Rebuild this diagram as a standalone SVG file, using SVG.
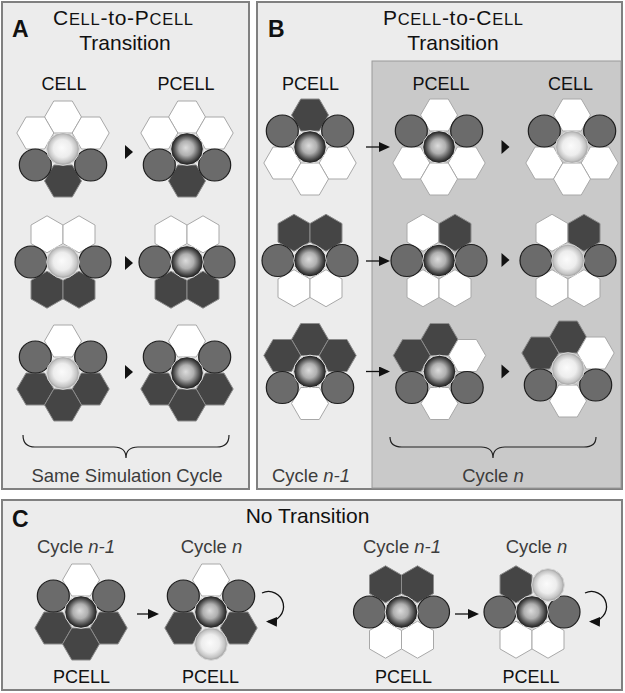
<svg xmlns="http://www.w3.org/2000/svg" xmlns:xlink="http://www.w3.org/1999/xlink" width="625" height="693" viewBox="0 0 625 693">
<style>
.panel{fill:#ececec;stroke:#808080;stroke-width:2}
.inner{fill:#c9c9c9;stroke:#9a9a9a;stroke-width:1}
.w{fill:#ffffff;stroke:#a8a8a8;stroke-width:1}
.d{fill:#454545;stroke:#8c8c8c;stroke-width:1}
.c{fill:#6b6b6b;stroke:#1e1e1e;stroke-width:1.2}
.pc{fill:url(#gp);stroke:#e4e4e4;stroke-width:1}
.cc{fill:url(#gc);stroke:#d8d8d8;stroke-width:1}
text{font-family:"Liberation Sans",Arial,sans-serif}
.t{font-size:21px;fill:#111;text-anchor:middle}
.sc{font-size:16.5px}
.lab{font-size:18px;fill:#111;text-anchor:middle}
.cy{font-size:18.5px;fill:#3c3c3c;text-anchor:middle}
.let{font-size:23px;font-weight:bold;fill:#111}
.ln{stroke:#111;stroke-width:1.3;fill:none}
.br{stroke:#222;stroke-width:1.2;fill:none}
.tri{fill:#111}
</style>
<defs>
<polygon id="hf" points="-18.5,0 -9.25,-16 9.25,-16 18.5,0 9.25,16 -9.25,16"/>
<polygon id="hp" points="0,-18.5 16,-9.25 16,9.25 0,18.5 -16,9.25 -16,-9.25"/>
<radialGradient id="gp" cx="50%" cy="50%" r="50%" fx="46%" fy="46%">
<stop offset="0" stop-color="#dcdcdc"/>
<stop offset="0.45" stop-color="#b0b0b0"/>
<stop offset="0.8" stop-color="#4a4a4a"/>
<stop offset="1" stop-color="#141414"/>
</radialGradient>
<radialGradient id="gc" cx="50%" cy="50%" r="50%" fx="46%" fy="46%">
<stop offset="0" stop-color="#fbfbfb"/>
<stop offset="0.55" stop-color="#ededed"/>
<stop offset="0.85" stop-color="#c4c4c4"/>
<stop offset="1" stop-color="#9a9a9a"/>
</radialGradient>
<marker id="ah" markerUnits="userSpaceOnUse" markerWidth="11" markerHeight="10" refX="9" refY="5" orient="auto">
<path d="M0,0 L11,5 L0,10 z" fill="#111"/>
</marker>
</defs>

<rect width="625" height="693" fill="#ffffff"/>

<g id="panelA">
<rect class="panel" x="2" y="2" width="247" height="487"/>
<text class="let" x="12" y="37">A</text>
<text class="t" x="123" y="25" textLength="140" lengthAdjust="spacing">C<tspan class="sc">ELL</tspan>-to-P<tspan class="sc">CELL</tspan></text>
<text class="t" x="125" y="50">Transition</text>
<text class="lab" x="64" y="90">CELL</text>
<text class="lab" x="186" y="90">PCELL</text>
<text class="cy" x="127" y="482">Same Simulation Cycle</text>
</g>

<g id="panelB">
<rect class="panel" x="257" y="2" width="365" height="487"/>
<rect class="inner" x="372" y="61" width="249" height="427"/>
<text class="let" x="268" y="37">B</text>
<text class="t" x="453" y="25" textLength="140" lengthAdjust="spacing">P<tspan class="sc">CELL</tspan>-to-C<tspan class="sc">ELL</tspan></text>
<text class="t" x="453" y="50">Transition</text>
<text class="lab" x="310.5" y="90">PCELL</text>
<text class="lab" x="441" y="90">PCELL</text>
<text class="lab" x="570.5" y="90">CELL</text>
<text class="cy" x="311" y="482">Cycle <tspan font-style="italic">n-1</tspan></text>
<text class="cy" x="493" y="482">Cycle <tspan font-style="italic">n</tspan></text>
</g>

<g id="panelC">
<rect class="panel" x="2" y="500" width="620" height="190"/>
<text class="let" x="12" y="527">C</text>
<text class="t" x="307.5" y="523">No Transition</text>
<text class="cy" x="76" y="553">Cycle <tspan font-style="italic">n-1</tspan></text>
<text class="cy" x="211.5" y="553">Cycle <tspan font-style="italic">n</tspan></text>
<text class="cy" x="402" y="553">Cycle <tspan font-style="italic">n-1</tspan></text>
<text class="cy" x="536.5" y="553">Cycle <tspan font-style="italic">n</tspan></text>
<text class="lab" x="81.5" y="683">PCELL</text>
<text class="lab" x="210.5" y="683">PCELL</text>
<text class="lab" x="403.5" y="683">PCELL</text>
<text class="lab" x="531" y="683">PCELL</text>
</g>

<!-- Panel A clusters -->
<g id="A1a">
<use href="#hf" class="w" x="63" y="117"/><use href="#hf" class="w" x="35.3" y="133"/><use href="#hf" class="w" x="90.7" y="133"/><use href="#hf" class="d" x="63" y="181"/>
<circle class="c" cx="35.3" cy="165" r="16"/><circle class="c" cx="90.7" cy="165" r="16"/>
<circle class="cc" cx="63" cy="149" r="16.3"/>
</g>
<g id="A1b">
<use href="#hf" class="w" x="187" y="117"/><use href="#hf" class="w" x="159.3" y="133"/><use href="#hf" class="w" x="214.7" y="133"/><use href="#hf" class="d" x="187" y="181"/>
<circle class="c" cx="159.3" cy="165" r="16"/><circle class="c" cx="214.7" cy="165" r="16"/>
<circle class="pc" cx="187" cy="149" r="16.3"/>
</g>
<g id="A2a">
<use href="#hp" class="w" x="47" y="234.3"/><use href="#hp" class="w" x="79" y="234.3"/><use href="#hp" class="d" x="47" y="289.7"/><use href="#hp" class="d" x="79" y="289.7"/>
<circle class="c" cx="31" cy="262" r="16"/><circle class="c" cx="95" cy="262" r="16"/>
<circle class="cc" cx="63" cy="262" r="16.3"/>
</g>
<g id="A2b">
<use href="#hp" class="w" x="171" y="234.3"/><use href="#hp" class="w" x="203" y="234.3"/><use href="#hp" class="d" x="171" y="289.7"/><use href="#hp" class="d" x="203" y="289.7"/>
<circle class="c" cx="155" cy="262" r="16"/><circle class="c" cx="219" cy="262" r="16"/>
<circle class="pc" cx="187" cy="262" r="16.3"/>
</g>
<g id="A3a">
<use href="#hf" class="w" x="63" y="341"/><use href="#hf" class="d" x="35.3" y="389"/><use href="#hf" class="d" x="90.7" y="389"/><use href="#hf" class="d" x="63" y="405"/>
<circle class="c" cx="35.3" cy="357" r="16"/><circle class="c" cx="90.7" cy="357" r="16"/>
<circle class="cc" cx="63" cy="373" r="16.3"/>
</g>
<g id="A3b">
<use href="#hf" class="w" x="187" y="341"/><use href="#hf" class="d" x="159.3" y="389"/><use href="#hf" class="d" x="214.7" y="389"/><use href="#hf" class="d" x="187" y="405"/>
<circle class="c" cx="159.3" cy="357" r="16"/><circle class="c" cx="214.7" cy="357" r="16"/>
<circle class="pc" cx="187" cy="373" r="16.3"/>
</g>

<!-- Panel B clusters -->
<g id="B1a">
<use href="#hf" class="d" x="310" y="115"/><use href="#hf" class="w" x="282.3" y="163"/><use href="#hf" class="w" x="337.7" y="163"/><use href="#hf" class="w" x="310" y="179"/>
<circle class="c" cx="282.3" cy="131" r="16"/><circle class="c" cx="337.7" cy="131" r="16"/>
<circle class="pc" cx="310" cy="147" r="16.3"/>
</g>
<g id="B1b">
<use href="#hf" class="w" x="439" y="115"/><use href="#hf" class="w" x="411.3" y="163"/><use href="#hf" class="w" x="466.7" y="163"/><use href="#hf" class="w" x="439" y="179"/>
<circle class="c" cx="411.3" cy="131" r="16"/><circle class="c" cx="466.7" cy="131" r="16"/>
<circle class="pc" cx="439" cy="147" r="16.3"/>
</g>
<g id="B1c">
<use href="#hf" class="w" x="572" y="115"/><use href="#hf" class="w" x="544.3" y="163"/><use href="#hf" class="w" x="599.7" y="163"/><use href="#hf" class="w" x="572" y="179"/>
<circle class="c" cx="544.3" cy="131" r="16"/><circle class="c" cx="599.7" cy="131" r="16"/>
<circle class="cc" cx="572" cy="147" r="16.3"/>
</g>
<g id="B2a">
<use href="#hp" class="d" x="294" y="232.8"/><use href="#hp" class="d" x="326" y="232.8"/><use href="#hp" class="w" x="294" y="288.2"/><use href="#hp" class="w" x="326" y="288.2"/>
<circle class="c" cx="278" cy="260.5" r="16"/><circle class="c" cx="342" cy="260.5" r="16"/>
<circle class="pc" cx="310" cy="260.5" r="16.3"/>
</g>
<g id="B2b">
<use href="#hp" class="w" x="423" y="232.8"/><use href="#hp" class="d" x="455" y="232.8"/><use href="#hp" class="w" x="423" y="288.2"/><use href="#hp" class="w" x="455" y="288.2"/>
<circle class="c" cx="407" cy="260.5" r="16"/><circle class="c" cx="471" cy="260.5" r="16"/>
<circle class="pc" cx="439" cy="260.5" r="16.3"/>
</g>
<g id="B2c">
<use href="#hp" class="w" x="552" y="232.8"/><use href="#hp" class="d" x="584" y="232.8"/><use href="#hp" class="w" x="552" y="288.2"/><use href="#hp" class="w" x="584" y="288.2"/>
<circle class="c" cx="536" cy="260.5" r="16"/><circle class="c" cx="600" cy="260.5" r="16"/>
<circle class="cc" cx="568" cy="260.5" r="16.3"/>
</g>
<g id="B3a">
<use href="#hf" class="d" x="310" y="339.5"/><use href="#hf" class="d" x="282.3" y="355.5"/><use href="#hf" class="d" x="337.7" y="355.5"/><use href="#hf" class="w" x="310" y="403.5"/>
<circle class="c" cx="282.3" cy="387.5" r="16"/><circle class="c" cx="337.7" cy="387.5" r="16"/>
<circle class="pc" cx="310" cy="371.5" r="16.3"/>
</g>
<g id="B3b">
<use href="#hf" class="d" x="439.5" y="339.5"/><use href="#hf" class="d" x="411.8" y="355.5"/><use href="#hf" class="w" x="467.2" y="355.5"/><use href="#hf" class="w" x="439.5" y="403.5"/>
<circle class="c" cx="411.8" cy="387.5" r="16"/><circle class="c" cx="467.2" cy="387.5" r="16"/>
<circle class="pc" cx="439.5" cy="371.5" r="16.3"/>
</g>
<g id="B3c">
<use href="#hf" class="d" x="568" y="337"/><use href="#hf" class="d" x="540.3" y="353"/><use href="#hf" class="w" x="595.7" y="353"/><use href="#hf" class="w" x="568" y="401"/>
<circle class="c" cx="540.3" cy="385" r="16"/><circle class="c" cx="595.7" cy="385" r="16"/>
<circle class="cc" cx="568" cy="369" r="16.3"/>
</g>

<!-- Panel C clusters -->
<g id="C1">
<use href="#hf" class="w" x="81" y="580"/><use href="#hf" class="d" x="53.3" y="628"/><use href="#hf" class="d" x="108.7" y="628"/><use href="#hf" class="d" x="81" y="644"/>
<circle class="c" cx="53.3" cy="596" r="16"/><circle class="c" cx="108.7" cy="596" r="16"/>
<circle class="pc" cx="81" cy="612" r="16.3"/>
</g>
<g id="C2">
<use href="#hf" class="w" x="211" y="580"/><use href="#hf" class="d" x="183.3" y="628"/><use href="#hf" class="d" x="238.7" y="628"/>
<circle class="c" cx="183.3" cy="596" r="16"/><circle class="c" cx="238.7" cy="596" r="16"/>
<circle class="cc" cx="211" cy="644" r="16.3"/>
<circle class="pc" cx="211" cy="612" r="16.3"/>
</g>
<g id="C3">
<use href="#hp" class="d" x="385.5" y="584.3"/><use href="#hp" class="d" x="417.5" y="584.3"/><use href="#hp" class="w" x="385.5" y="639.7"/><use href="#hp" class="w" x="417.5" y="639.7"/>
<circle class="c" cx="369.5" cy="612" r="16"/><circle class="c" cx="433.5" cy="612" r="16"/>
<circle class="pc" cx="401.5" cy="612" r="16.3"/>
</g>
<g id="C4">
<use href="#hp" class="d" x="516" y="584.3"/><use href="#hp" class="w" x="516" y="639.7"/><use href="#hp" class="w" x="548" y="639.7"/>
<circle class="c" cx="500" cy="612" r="16"/><circle class="c" cx="564" cy="612" r="16"/>
<circle class="cc" cx="548" cy="585" r="16.3"/>
<circle class="pc" cx="532" cy="612" r="16.3"/>
</g>

<g id="connectors">
<polygon class="tri" points="125,145 133,152 125,159"/>
<polygon class="tri" points="125,256 133,263 125,270"/>
<polygon class="tri" points="125,365 133,372 125,379"/>
<line class="ln" x1="366" y1="147" x2="388" y2="147" marker-end="url(#ah)"/>
<line class="ln" x1="366" y1="261" x2="388" y2="261" marker-end="url(#ah)"/>
<line class="ln" x1="366" y1="371.5" x2="388" y2="371.5" marker-end="url(#ah)"/>
<polygon class="tri" points="501.5,140 509.5,147 501.5,154"/>
<polygon class="tri" points="501.5,253 509.5,260 501.5,267"/>
<polygon class="tri" points="501.5,364.5 509.5,371.5 501.5,378.5"/>
<line class="ln" x1="137" y1="614" x2="157" y2="614" marker-end="url(#ah)"/>
<line class="ln" x1="455" y1="614" x2="477" y2="614" marker-end="url(#ah)"/>
<path class="ln" d="M262,593 A15,15 0 1 1 268,621.5" marker-end="url(#ah)"/>
<path class="ln" d="M585,593 A15,15 0 1 1 591,621.5" marker-end="url(#ah)"/>
<path class="br" d="M23,435 Q23,447 35,447 L114,447 Q126,447 126,458 Q126,447 138,447 L217,447 Q229,447 229,435"/>
<path class="br" d="M390,437 Q390,447 402,447 L481,447 Q493,447 493,458 Q493,447 505,447 L584,447 Q596,447 596,437"/>
</g>
</svg>
